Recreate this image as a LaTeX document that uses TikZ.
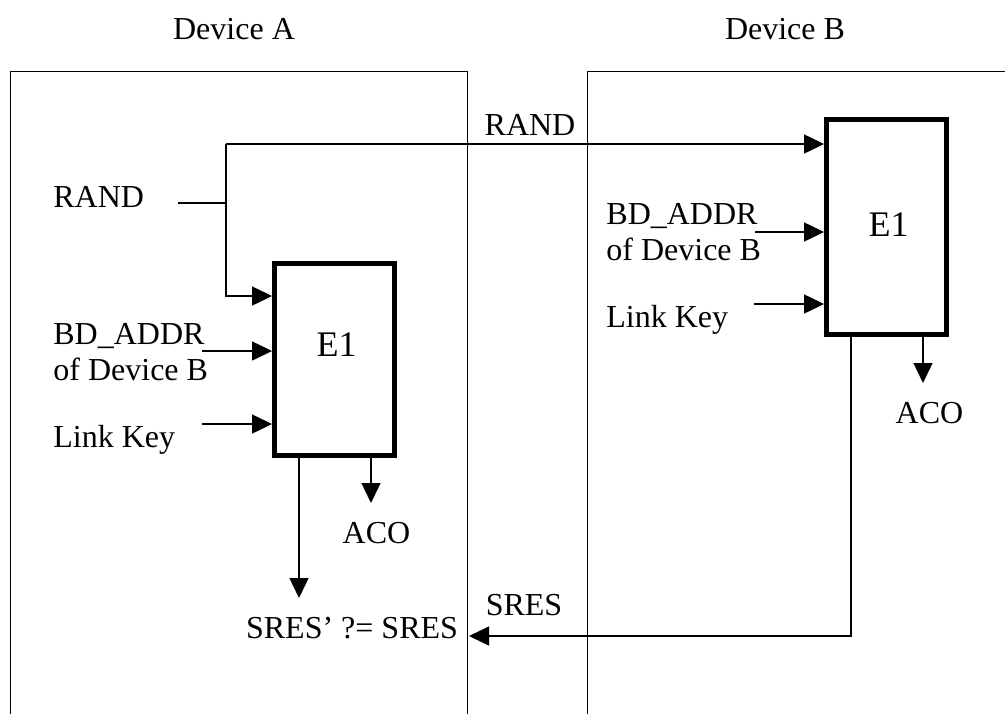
\documentclass[tikz,border=0pt]{standalone}
\usepackage{fontspec}
\setmainfont{Liberation Serif}
\usepackage{tikz}
\usetikzlibrary{arrows.meta,positioning,calc}

\begin{document}
\begin{tikzpicture}[x=0.5pt,y=-0.5pt]
    \tikzset{
      txt/.style={font=\fontsize{16}{18}\selectfont,inner sep=0pt},
      bigtxt/.style={font=\fontsize{18}{20}\selectfont,inner sep=0pt},
      e1box/.style={draw,line width=2.7pt,minimum width=59.75pt,minimum height=95.75pt,inner sep=0pt},
      frame/.style={line width=0.5pt},
      wire/.style={line width=0.65pt},
      arrow/.style={wire,-{Triangle[length=10pt,width=9.5pt]}}
    }
    \useasboundingbox (0,0) rectangle (1005,713);
    % device frames
    \node[txt,anchor=base] (devA) at (234,39) {Device A};
    \node[txt,anchor=base] (devB) at (785,39) {Device B};
    \draw[frame] (10,730) -- (10,71) -- (467,71) -- (467,730);
    \draw[frame] (587,730) -- (587,71) -- (1020,71);
    % E1 blocks
    \node[e1box] (e1a) at (334.5,359.5) {};
    \node[e1box,minimum height=107.25pt] (e1b) at (886.5,227) {};
    \node[bigtxt,anchor=base] (e1a-lbl) at (336.5,356) {E1};
    \node[bigtxt,anchor=base] (e1b-lbl) at (888.5,236) {E1};
    % inputs of device A
    \node[txt,anchor=base west] (randA) at (53,207) {RAND};
    \node[txt,anchor=base west,align=left] (addrA) at (53,380) {BD\_ADDR\\of Device B};
    \node[txt,anchor=base west] (keyA) at (53,447) {Link Key};
    % inputs of device B
    \node[txt,anchor=base] (randB) at (530,135) {RAND};
    \node[txt,anchor=base west,align=left] (addrB) at (606,260) {BD\_ADDR\\of Device B};
    \node[txt,anchor=base west] (keyB) at (606,327) {Link Key};
    % outputs
    \node[txt,anchor=base] (acoA) at (376.5,543) {ACO};
    \node[txt,anchor=base] (acoB) at (929.5,423) {ACO};
    \node[txt,anchor=base] (cmp) at (352,638) {SRES' ?= SRES};
    \node[txt,anchor=base] (sres) at (524,615) {SRES};
    % connector ends
    \coordinate (randsrc) at (178,203);
    \coordinate (tap) at (226,144);
    \coordinate (a-rand) at (e1a.west |- 0,296);
    \coordinate (addrA-src) at (202,351);
    \coordinate (keyA-src) at (202,424);
    \coordinate (addrB-src) at (755,232);
    \coordinate (keyB-src) at (754,304);
    \coordinate (acoA-tip) at (371,503);
    \coordinate (sresA-tip) at (299,598);
    \coordinate (acoB-tip) at (923,383);
    \coordinate (sresB-out) at (851,0);
    \coordinate (cmp-in) at (469,636);
    % connectors
    \draw[wire] (randsrc) -- (randsrc -| tap);
    \draw[arrow] (tap) -- (tap -| e1b.west);
    \draw[arrow] (tap) |- (a-rand);
    \draw[arrow] (addrA-src) -- (addrA-src -| e1a.west);
    \draw[arrow] (keyA-src) -- (keyA-src -| e1a.west);
    \draw[arrow] (addrB-src) -- (addrB-src -| e1b.west);
    \draw[arrow] (keyB-src) -- (keyB-src -| e1b.west);
    \draw[arrow] (e1a.south -| acoA-tip) -- (acoA-tip);
    \draw[arrow] (e1a.south -| sresA-tip) -- (sresA-tip);
    \draw[arrow] (e1b.south -| acoB-tip) -- (acoB-tip);
    \draw[arrow] (e1b.south -| sresB-out) |- (cmp-in);
  \end{tikzpicture}
\end{document}
